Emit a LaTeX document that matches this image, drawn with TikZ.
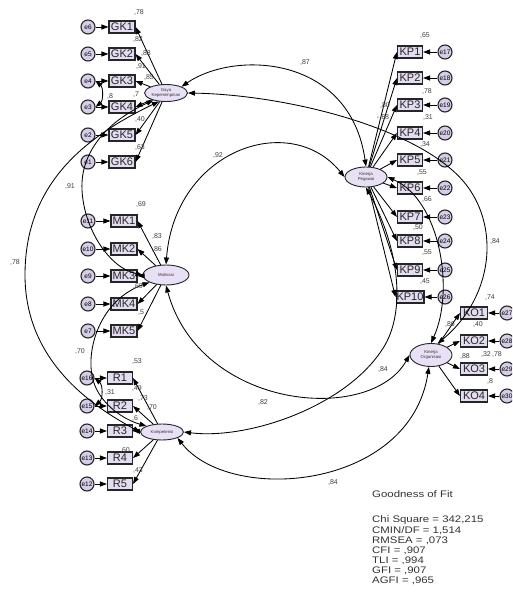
\documentclass[tikz,border=0pt]{standalone}
\usepackage{fontspec}
\setmainfont{Liberation Sans}
\usetikzlibrary{shapes.geometric,arrows.meta}
\definecolor{lav}{HTML}{E4DCF0}
\definecolor{lat}{HTML}{E8E0F4}
\definecolor{errc}{HTML}{D6CDE6}
\begin{document}
\begin{tikzpicture}[x=1pt,y=-1pt,
  ind/.style={draw=black!85, line width=1.1, fill=lav, minimum width=26, minimum height=12, inner sep=0.5, text=black!85, font=\fontsize{11}{11}\selectfont},
  err/.style={circle, draw=black!85, line width=1.1, fill=errc, minimum size=14, inner sep=0, font=\fontsize{6.5}{6.5}\selectfont},
  lat/.style={ellipse, draw=black!85, line width=0.9, fill=lat, inner sep=0, align=center, text=black!80, font=\fontsize{4.3}{4.8}\selectfont},
  arr/.style={-{Triangle[length=7,width=5]}, line width=0.85},
  cov/.style={{Triangle[length=7,width=5]}-{Triangle[length=7,width=5]}, line width=0.85},
  lbl/.style={font=\fontsize{7}{7}\selectfont, text=black!75, inner sep=0},
  fit/.style={font=\fontsize{9.5}{9.5}\selectfont, text=black!80, anchor=base west, inner sep=0, xscale=1.2}
]
\useasboundingbox (0,0) rectangle (512,604);
\clip (0,0) rectangle (512,604);
\fill[white] (0,0) rectangle (512,604);

% latent variables
\node[lat, minimum width=43, minimum height=17] (GK) at (166,93) {Gaya\\Kepemimpinan};
\node[lat, minimum width=46, minimum height=20] (MK) at (166,275) {Motivasi};
\node[lat, minimum width=43, minimum height=16] (RK) at (162,432) {Kompetensi};
\node[lat, minimum width=42, minimum height=20] (KP) at (366,177) {Kinerja\\Pegawai};
\node[lat, minimum width=42, minimum height=23] (KO) at (431,355) {Kinerja\\Organisasi};

% GK indicators
\foreach \i/\y/\e in {1/27/6,2/54/5,3/81/4,4/107/3,5/135/2,6/162/1}{
  \node[ind] (GK\i) at (122,\y) {GK\i};
  \node[err] (e\e) at (88,\y) {e\e};
  \draw[arr] (e\e) -- (GK\i);
  \draw[arr] (GK) -- (GK\i.east);
}
% MK indicators
\foreach \i/\y/\e in {1/221/11,2/249/10,3/276/9,4/304/8,5/331/7}{
  \node[ind] (MK\i) at (124,\y) {MK\i};
  \node[err] (e\e) at (88,\y) {e\e};
  \draw[arr] (e\e) -- (MK\i);
  \draw[arr] (MK) -- (MK\i.east);
}
% R indicators
\foreach \i/\y/\e in {1/378/16,2/406/15,3/431/14,4/458/13,5/484/12}{
  \node[ind, minimum width=25] (R\i) at (120,\y) {R\i};
  \node[err] (e\e) at (87,\y) {e\e};
  \draw[arr] (e\e) -- (R\i);
  \draw[arr] (RK) -- (R\i.east);
}
% KP indicators
\foreach \i/\y/\e in {1/52/17,2/78/18,3/105/19,4/133/20,5/160/21,6/188/22,7/217/23,8/241/24,9/270/25,10/297/26}{
  \node[ind, minimum width=25] (KP\i) at (410,\y) {KP\i};
  \node[err] (e\e) at (445,\y) {e\e};
  \draw[arr] (e\e) -- (KP\i);
  \draw[arr] (KP) -- (KP\i.west);
}
% KO indicators
\foreach \i/\y/\e in {1/313/27,2/341/28,3/369/29,4/396/30}{
  \node[ind, minimum width=27] (KO\i) at (474,\y) {KO\i};
  \node[err] (e\e) at (507,\y) {e\e};
  \draw[arr] (e\e) -- (KO\i);
  \draw[arr] (KO) -- (KO\i.west);
}

% error covariances
\draw[cov] (e4.east) to[bend left=50] (e3.east);
\draw[cov] (e16.east) to[bend left=50] (e15.east);

% latent covariances
\draw[cov] (GK.north east) .. controls (235,50) and (350,55) .. (KP.north);
\draw[cov] (GK.east) .. controls (290,95) and (430,130) .. (470,190) .. controls (500,235) and (490,300) .. (KO.60);
\draw[cov] (GK.210) .. controls (110,120) and (80,150) .. (82,190) .. controls (84,230) and (110,268) .. (MK.west);
\draw[cov] (GK.230) .. controls (90,135) and (25,180) .. (25,275) .. controls (25,360) and (90,405) .. (RK.west);
\draw[cov] (MK.north) .. controls (175,150) and (290,110) .. (KP.west);
\draw[cov] (MK.south west) .. controls (100,300) and (85,350) .. (93,380) .. controls (100,405) and (125,420) .. (RK.north west);
\draw[cov] (MK.south) .. controls (200,410) and (370,425) .. (KO.west);
\draw[cov] (KP.south) .. controls (400,250) and (405,310) .. (385,345) .. controls (350,405) and (250,440) .. (RK.east);
\draw[cov] (RK.south east) .. controls (230,505) and (410,490) .. (KO.260);
\draw[cov] (KP.east) .. controls (440,200) and (455,290) .. (KO.north);

% covariance labels
\node[lbl] (c1) at (305,63) {,87};
\node[lbl] (c2) at (495,242) {,84};
\node[lbl] (c3) at (70,187) {,91};
\node[lbl] (c4) at (15,263) {,78};
\node[lbl] (c5) at (218,156) {,92};
\node[lbl] (c6) at (80,352) {,70};
\node[lbl] (c7) at (263,402) {,82};
\node[lbl] (c8) at (383,369) {,84};
\node[lbl] (c9) at (333,482) {,84};

% indicator labels GK
\node[lbl] (g1) at (139,13) {,78};
\node[lbl] (g2) at (138,40) {,82};
\node[lbl] (g3) at (146,54) {,88};
\node[lbl] (g4) at (141,67) {,91};
\node[lbl] (g5) at (149,78) {,85};
\node[lbl] (g6) at (110,97) {,8};
\node[lbl] (g7) at (136,95) {,7};
\node[lbl] (g8) at (140,120) {,40};
\node[lbl] (g9) at (140,148) {,63};
% MK
\node[lbl] (m1) at (141,205) {,69};
\node[lbl] (m2) at (157,237) {,83};
\node[lbl] (m3) at (157,250) {,86};
\node[lbl] (m4) at (138,287) {,60};
\node[lbl] (m5) at (141,313) {,5};
% R
\node[lbl] (r1) at (137,362) {,53};
\node[lbl] (r2) at (137,388) {,49};
\node[lbl] (r3) at (143,398) {,73};
\node[lbl] (r4) at (152,407) {,70};
\node[lbl] (r5) at (110,392) {,31};
\node[lbl] (r6) at (135,418) {,6};
\node[lbl] (r7) at (125,450) {,60};
\node[lbl] (r8) at (138,470) {,43};
% KP
\node[lbl] (k1) at (425,36) {,65};
\node[lbl] (k2) at (427,92) {,78};
\node[lbl] (k3) at (385,106) {,80};
\node[lbl] (k4) at (383,118) {-,88};
\node[lbl] (k5) at (428,118) {,31};
\node[lbl] (k6) at (425,145) {,34};
\node[lbl] (k7) at (422,173) {,55};
\node[lbl] (k8) at (427,200) {,66};
\node[lbl] (k9) at (418,228) {,50};
\node[lbl] (k10) at (427,253) {,55};
\node[lbl] (k11) at (425,282) {,45};
% KO
\node[lbl] (o1) at (490,298) {,74};
\node[lbl] (o2) at (450,325) {,86};
\node[lbl] (o3) at (478,325) {,40};
\node[lbl] (o4) at (465,357) {,88};
\node[lbl] (o5) at (486,355) {,32};
\node[lbl] (o6) at (497,355) {,78};
\node[lbl] (o7) at (490,382) {,8};

% goodness of fit
\node[fit] (f0) at (372,497) {Goodness of Fit};
\node[fit] (f1) at (372,522) {Chi Square = 342,215};
\node[fit] (f2) at (372,533) {CMIN/DF = 1,514};
\node[fit] (f3) at (372,543) {RMSEA = ,073};
\node[fit] (f4) at (372,553) {CFI = ,907};
\node[fit] (f5) at (372,563) {TLI = ,994};
\node[fit] (f6) at (372,573) {GFI = ,907};
\node[fit] (f7) at (372,583) {AGFI = ,965};
\end{tikzpicture}
\end{document}
